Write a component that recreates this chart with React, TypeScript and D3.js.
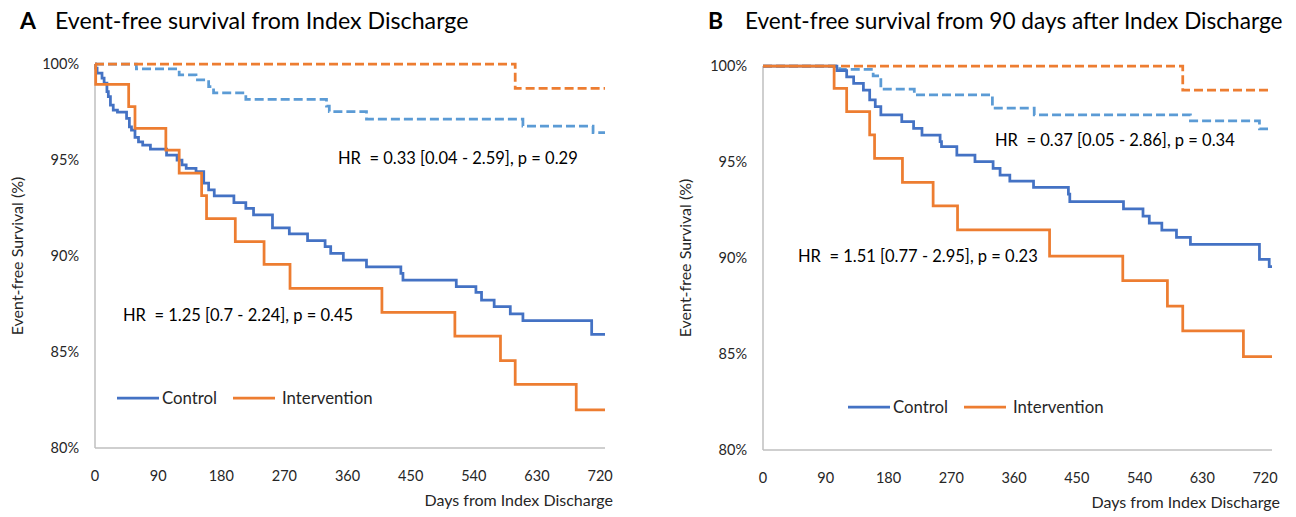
import React from 'react';
import * as d3 from 'd3';

// tick labels
const dayTicks = [0, 90, 180, 270, 360, 450, 540, 630, 720];
const pctTicks = [80, 85, 90, 95, 100];

// series: [day, event-free survival %]
const aControl = [[0, 100], [1, 99.78], [3, 99.52], [10, 99.26], [13, 99.0], [17, 98.56], [19, 98.3], [22, 97.86], [26, 97.6], [32, 97.5], [45, 97.17], [49, 96.73], [52, 96.56], [57, 96.18], [62, 95.95], [68, 95.78], [79, 95.56], [102, 95.26], [117, 95.0], [124, 94.74], [130, 94.57], [144, 94.39], [155, 93.79], [162, 93.44], [170, 93.13], [198, 92.78], [215, 92.48], [226, 92.14], [253, 91.47], [277, 91.15], [303, 90.8], [328, 90.49], [336, 90.14], [354, 89.79], [387, 89.44], [436, 89.1], [439, 88.75], [515, 88.4], [543, 88.1], [551, 87.7], [569, 87.36], [592, 86.98], [610, 86.63], [708, 85.92]];
const aIntervention = [[0, 100], [1, 98.94], [48, 97.78], [57, 96.65], [101, 95.52], [120, 94.31], [152, 93.14], [159, 91.95], [200, 90.75], [241, 89.57], [278, 88.32], [409, 87.07], [513, 85.83], [578, 84.55], [599, 83.32], [686, 81.98]];
const aControlDashed = [[0, 100], [59, 99.74], [120, 99.43], [144, 99.17], [162, 98.82], [169, 98.5], [215, 98.16], [330, 97.81], [334, 97.52], [387, 97.13], [610, 96.77], [710, 96.42]];
const aInterventionDashed = [[0, 100], [599, 98.73]];

const bControl = [[0, 100], [106, 99.76], [120, 99.44], [130, 99.1], [144, 98.75], [153, 98.23], [161, 97.88], [169, 97.45], [199, 97.1], [216, 96.75], [228, 96.4], [254, 96.06], [256, 95.8], [278, 95.36], [304, 95.02], [330, 94.67], [340, 94.32], [354, 94.0], [388, 93.68], [438, 93.33], [440, 92.93], [517, 92.56], [545, 92.18], [554, 91.82], [572, 91.45], [593, 91.08], [613, 90.71], [712, 89.93], [726, 89.55]];
const bIntervention = [[0, 100], [102, 98.84], [120, 97.62], [153, 96.41], [160, 95.19], [200, 93.94], [244, 92.72], [279, 91.46], [411, 90.1], [516, 88.82], [580, 87.5], [602, 86.2], [689, 84.86]];
const bControlDashed = [[0, 100], [110, 99.83], [158, 99.48], [169, 98.79], [217, 98.49], [329, 97.8], [389, 97.45], [613, 97.14], [712, 96.72]];
const bInterventionDashed = [[0, 100], [602, 98.75]];

const FONT = 'Lato, "Open Sans", sans-serif';
const BLUE = '#4472C4';
const ORANGE = '#ED7D31';
const LIGHTBLUE = '#5B9BD5';
const AXIS = '#BFBFBF';

const Panel = ({ letter, title, titleX, titleSize, letterX, x0, x1, dayMax, y0, y1, series, hr1, hr2, legend }) => {
  const x = d3.scaleLinear().domain([0, dayMax]).range([x0, x1]);
  const y = d3.scaleLinear().domain([80, 100]).range([y1, y0]);
  const line = d3.line().x(d => x(d[0])).y(d => y(d[1])).curve(d3.curveStepAfter);
  const extend = pts => [...pts, [dayMax, pts[pts.length - 1][1]]];

  return (
    <g fontFamily={FONT}>
      <text x={letterX} y={29} fontSize={23} fontWeight="bold" fill="#000">{letter}</text>
      <text x={titleX} y={29} fontSize={titleSize} fill="#000">{title}</text>

      {/* axes */}
      <line x1={x0} x2={x0} y1={y(100)} y2={y(80)} stroke={AXIS} strokeWidth={1.5} />
      <line x1={x0} x2={x1} y1={y(80)} y2={y(80)} stroke={AXIS} strokeWidth={1.5} />
      {pctTicks.map(t => (
        <text key={t} x={x0 - 16} y={y(t) + 5} textAnchor="end" fontSize={14.5} fill="#262626">{t}%</text>
      ))}
      {dayTicks.map(t => (
        <text key={t} x={x(t)} y={y(80) + 33} textAnchor="middle" fontSize={14.5} fill="#262626">{t}</text>
      ))}
      <text x={x1 + 8} y={y(80) + 58} textAnchor="end" fontSize={16} fill="#262626">Days from Index Discharge</text>
      <text transform={`translate(${x0 - 72},${(y(80) + y(100)) / 2}) rotate(-90)`} textAnchor="middle" fontSize={16} fill="#262626">Event-free Survival (%)</text>

      {/* curves */}
      {series.map((s, i) => (
        <path key={i} d={line(extend(s.data))} fill="none" stroke={s.color} strokeWidth={2.75}
          strokeDasharray={s.dashed ? '9,4' : null} />
      ))}

      <text x={hr1.x} y={hr1.y} fontSize={16.5} fill="#000" style={{ whiteSpace: 'pre' }}>{hr1.text}</text>
      <text x={hr2.x} y={hr2.y} fontSize={16.5} fill="#000" style={{ whiteSpace: 'pre' }}>{hr2.text}</text>

      {/* legend */}
      <line x1={legend.x} x2={legend.x + 42} y1={legend.y} y2={legend.y} stroke={BLUE} strokeWidth={2.75} />
      <text x={legend.x + 45} y={legend.y + 6} fontSize={16.8} fill="#262626">Control</text>
      <line x1={legend.x + 116} x2={legend.x + 158} y1={legend.y} y2={legend.y} stroke={ORANGE} strokeWidth={2.75} />
      <text x={legend.x + 165} y={legend.y + 6} fontSize={16.8} fill="#262626">Intervention</text>
    </g>
  );
};

export default function App() {
  return (
    <svg width={1296} height={517} style={{ position: 'absolute', left: 0, top: 0, background: '#fff' }}>
      <Panel letter="A" letterX={20} titleX={55} titleSize={23.2} title="Event-free survival from Index Discharge"
        x0={95} x1={605} dayMax={727} y0={64} y1={448}
        series={[
          { data: aControlDashed, color: LIGHTBLUE, dashed: true },
          { data: aInterventionDashed, color: ORANGE, dashed: true },
          { data: aControl, color: BLUE },
          { data: aIntervention, color: ORANGE },
        ]}
        hr1={{ x: 338, y: 164, text: 'HR  = 0.33 [0.04 - 2.59], p = 0.29' }}
        hr2={{ x: 123, y: 321, text: 'HR  = 1.25 [0.7 - 2.24], p = 0.45' }}
        legend={{ x: 117, y: 398 }}
      />
      <Panel letter="B" letterX={708} titleX={745} titleSize={22.6} title="Event-free survival from 90 days after Index Discharge"
        x0={763} x1={1272} dayMax={730} y0={66} y1={450}
        series={[
          { data: bControlDashed, color: LIGHTBLUE, dashed: true },
          { data: bInterventionDashed, color: ORANGE, dashed: true },
          { data: bControl, color: BLUE },
          { data: bIntervention, color: ORANGE },
        ]}
        hr1={{ x: 995, y: 146, text: 'HR  = 0.37 [0.05 - 2.86], p = 0.34' }}
        hr2={{ x: 798, y: 262, text: 'HR  = 1.51 [0.77 - 2.95], p = 0.23' }}
        legend={{ x: 848, y: 407 }}
      />
    </svg>
  );
}
